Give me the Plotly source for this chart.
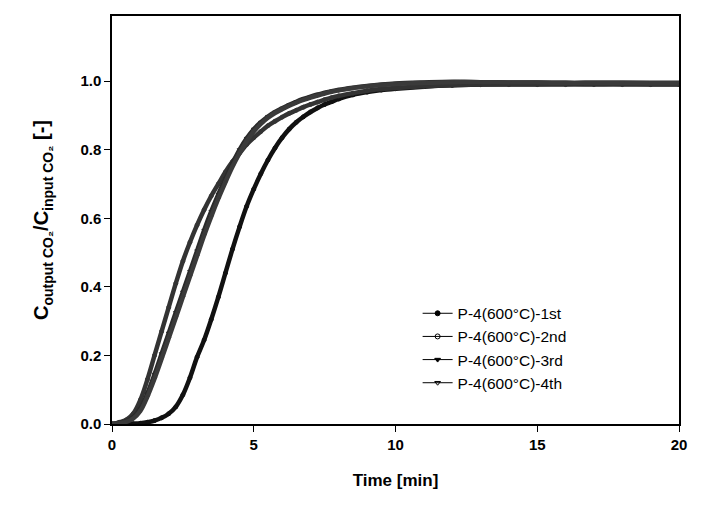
import plotly.graph_objects as go

TIME = [0, 0.25, 0.5, 0.75, 1.0, 1.25, 1.5, 1.75, 2.0, 2.25, 2.5, 2.75, 3.0, 3.25, 3.5, 3.75,
        4.0, 4.25, 4.5, 4.75, 5.0, 5.25, 5.5, 5.75, 6.0, 6.25, 6.5, 6.75, 7.0, 7.25, 7.5, 7.75,
        8.0, 8.5, 9.0, 9.5, 10, 11, 12, 13, 14, 15, 16, 17, 18, 19, 20]

RUN_1ST = [0, 0, 0, 0.001, 0.002, 0.005, 0.01, 0.018, 0.03, 0.05, 0.085, 0.135, 0.195, 0.245, 0.305, 0.37,
           0.44, 0.51, 0.575, 0.635, 0.685, 0.73, 0.77, 0.805, 0.835, 0.86, 0.88, 0.896, 0.91, 0.922, 0.932, 0.94,
           0.948, 0.96, 0.968, 0.974, 0.978, 0.984, 0.988, 0.99, 0.991, 0.991, 0.992, 0.992, 0.992, 0.991, 0.991]

RUN_2ND = [0, 0.005, 0.012, 0.03, 0.07, 0.13, 0.2, 0.27, 0.34, 0.41, 0.475, 0.53, 0.58, 0.625, 0.665, 0.70,
           0.735, 0.765, 0.79, 0.815, 0.835, 0.853, 0.87, 0.883, 0.895, 0.906, 0.915, 0.924, 0.932, 0.939, 0.946, 0.952,
           0.957, 0.965, 0.972, 0.977, 0.98, 0.985, 0.988, 0.99, 0.99, 0.99, 0.99, 0.99, 0.99, 0.99, 0.99]

RUN_3RD = [0, 0.003, 0.008, 0.02, 0.045, 0.09, 0.145, 0.205, 0.265, 0.325, 0.385, 0.445, 0.505, 0.565, 0.62, 0.67,
           0.715, 0.76, 0.80, 0.833, 0.86, 0.88, 0.897, 0.91, 0.921, 0.931, 0.94, 0.948, 0.955, 0.961, 0.966, 0.971,
           0.975, 0.981, 0.986, 0.99, 0.993, 0.996, 0.998, 0.997, 0.996, 0.996, 0.995, 0.995, 0.995, 0.995, 0.995]

RUN_4TH = [0, 0.002, 0.006, 0.016, 0.038, 0.08, 0.132, 0.19, 0.25, 0.31, 0.37, 0.43, 0.49, 0.55, 0.605, 0.657,
           0.705, 0.75, 0.79, 0.825, 0.853, 0.875, 0.893, 0.907, 0.918, 0.928, 0.937, 0.945, 0.952, 0.958, 0.964, 0.969,
           0.973, 0.98, 0.985, 0.989, 0.992, 0.995, 0.997, 0.997, 0.996, 0.996, 0.995, 0.995, 0.995, 0.994, 0.994]

NAMES = ["P-4(600°C)-1st", "P-4(600°C)-2nd", "P-4(600°C)-3rd", "P-4(600°C)-4th"]
SERIES = [RUN_1ST, RUN_2ND, RUN_3RD, RUN_4TH]
SYMBOLS = ["circle", "circle-open", "triangle-down", "triangle-down-open"]
COLORS = ["#111111", "#333333", "#2a2a2a", "#3a3a3a"]

X_TICKS = [0, 5, 10, 15, 20]
Y_TICKS = [0.0, 0.2, 0.4, 0.6, 0.8, 1.0]
Y_TICK_TEXT = ["0.0", "0.2", "0.4", "0.6", "0.8", "1.0"]

FONT = "Liberation Sans, Arial, sans-serif"

fig = go.Figure()
# data curves (dense marker look emulated by a thick line)
for name, vals, sym, col in zip(NAMES, SERIES, SYMBOLS, COLORS):
    fig.add_trace(go.Scatter(
        x=TIME, y=vals, name=name, mode="lines+markers", showlegend=False,
        line=dict(color=col, width=4.5, shape="spline"),
        marker=dict(symbol=sym, size=4, color=col, line=dict(color=col, width=1)),
    ))
# legend samples: thin line with a small marker
for name, sym in zip(NAMES, SYMBOLS):
    fig.add_trace(go.Scatter(
        x=[None], y=[None], name=name, mode="lines+markers",
        line=dict(color="black", width=1),
        marker=dict(symbol=sym, size=5, color="black", line=dict(color="black", width=1)),
    ))

fig.update_layout(
    width=712, height=513,
    margin=dict(l=104, r=41, t=6, b=97),
    paper_bgcolor="white", plot_bgcolor="white",
    font=dict(family=FONT, color="black"),
    showlegend=True,
    legend=dict(x=0.539, y=0.312, xanchor="left", yanchor="top",
                font=dict(size=15.5, family=FONT),
                bgcolor="rgba(0,0,0,0)", tracegroupgap=0, itemwidth=30),
)
fig.update_xaxes(
    range=[0, 20], tickvals=X_TICKS, ticktext=["<b>%s</b>" % v for v in X_TICKS],
    showline=True, linecolor="black", linewidth=1.5, mirror=True,
    ticks="outside", ticklen=6, tickcolor="black", showgrid=False, zeroline=False,
    tickfont=dict(size=15, family=FONT),
    title=dict(text="<b>Time [min]</b>", font=dict(size=17), standoff=22),
)
fig.update_yaxes(
    range=[0, 1.19], tickvals=Y_TICKS, ticktext=["<b>%s</b>" % t for t in Y_TICK_TEXT],
    showline=True, linecolor="black", linewidth=1.5, mirror=True,
    ticks="outside", ticklen=6, tickcolor="black", showgrid=False, zeroline=False,
    tickfont=dict(size=15, family=FONT),
    title=dict(text="<b>C<sub>output CO₂</sub>/C<sub>input CO₂</sub> [-]</b>", font=dict(size=20), standoff=26),
)

fig.write_html("out.html")
